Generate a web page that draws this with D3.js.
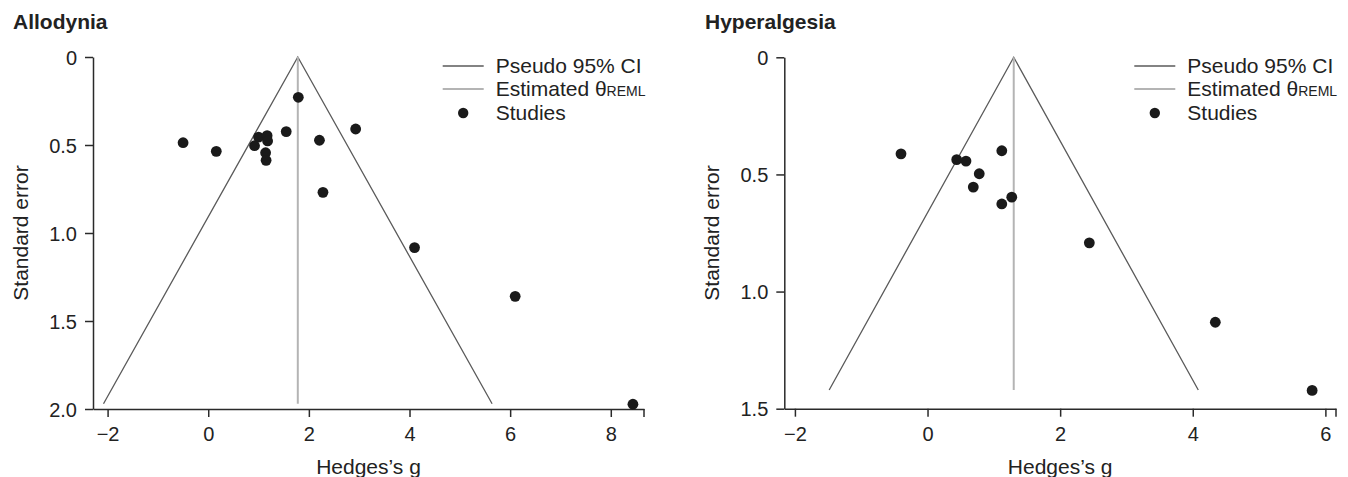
<!DOCTYPE html>
<html>
<head>
<meta charset="utf-8">
<script src="https://cdn.jsdelivr.net/npm/d3@7.9.0/dist/d3.min.js"></script>
<style>
  body { margin: 0; background: #fff; }
  svg { display: block; font-family: "Liberation Sans", Arial, Helvetica, sans-serif; }
  .tick text { font-size: 20px; fill: #222; }
</style>
</head>
<body>
<svg id="chart" width="1348" height="477"></svg>
<script>
// Allodynia: Hedges's g and standard error of each study
const allodyniaG  = [1.79, 2.93, 1.55, -0.50, 0.16, 1.00, 1.17, 1.18, 0.92, 1.14, 1.15, 2.21, 2.28, 4.10, 6.10, 8.44];
const allodyniaSE = [0.229, 0.409, 0.424, 0.487, 0.536, 0.455, 0.447, 0.477, 0.504, 0.544, 0.587, 0.473, 0.769, 1.083, 1.360, 1.973];
const allodyniaTheta = 1.78;
const allodyniaMaxSE = 1.97;

// Hyperalgesia
const hyperG  = [-0.40, 0.44, 0.58, 1.12, 0.78, 0.69, 1.27, 1.12, 2.44, 4.34, 5.80];
const hyperSE = [0.412, 0.437, 0.443, 0.399, 0.497, 0.554, 0.597, 0.626, 0.792, 1.131, 1.422];
const hyperTheta = 1.30;
const hyperMaxSE = 1.42;

const allodyniaXTicks = [-2, 0, 2, 4, 6, 8];
const allodyniaYTicks = [0, 0.5, 1.0, 1.5, 2.0];
const hyperXTicks = [-2, 0, 2, 4, 6];
const hyperYTicks = [0, 0.5, 1.0, 1.5];

const legendLabels = ["Pseudo 95% CI", "Estimated θ", "Studies"];

const svg = d3.select("#chart");
const z = 1.96;

function drawPanel(p) {
  const g = svg.append("g");
  const x = d3.scaleLinear().domain(p.xDomain).range([p.left, p.right]);
  const y = d3.scaleLinear().domain(p.yDomain).range([p.top, p.bottom]);

  // title
  g.append("text")
    .attr("x", p.titleX).attr("y", 29)
    .attr("font-size", 21).attr("font-weight", "bold").attr("fill", "#222")
    .text(p.title);

  // pseudo 95% CI funnel
  const funnel = [[p.theta - z * p.maxSE, p.maxSE], [p.theta, 0], [p.theta + z * p.maxSE, p.maxSE]];
  g.append("path")
    .attr("d", d3.line().x(d => x(d[0])).y(d => y(d[1]))(funnel))
    .attr("fill", "none").attr("stroke", "#5a5a5a").attr("stroke-width", 1.3);

  // estimated theta
  g.append("line")
    .attr("x1", x(p.theta)).attr("x2", x(p.theta))
    .attr("y1", y(0)).attr("y2", y(p.maxSE))
    .attr("stroke", "#b4b4b4").attr("stroke-width", 2);

  // axes
  const xAxis = g.append("g")
    .attr("transform", `translate(0,${p.bottom})`)
    .call(d3.axisBottom(x).tickValues(p.xTicks).tickSize(8).tickSizeOuter(0).tickPadding(10));
  const yAxis = g.append("g")
    .attr("transform", `translate(${p.left},0)`)
    .call(d3.axisLeft(y).tickValues(p.yTicks).tickSize(8).tickSizeOuter(0).tickPadding(8)
      .tickFormat(d => d === 0 ? "0" : d3.format(".1f")(d)));
  // end tick at right of x axis
  xAxis.append("line")
    .attr("x1", p.right).attr("x2", p.right).attr("y1", 0).attr("y2", 8);
  [xAxis, yAxis].forEach(a => {
    a.selectAll("path, line").attr("stroke", "#2a2a2a").attr("stroke-width", 1.5);
    a.selectAll("text").attr("font-family", "Liberation Sans, Arial, sans-serif");
  });
  yAxis.selectAll("text").attr("dy", "0.36em");

  // axis titles
  g.append("text")
    .attr("x", (p.left + p.right) / 2).attr("y", 474)
    .attr("text-anchor", "middle").attr("font-size", 21).attr("fill", "#222")
    .text("Hedges\u2019s g");
  g.append("text")
    .attr("transform", `translate(${p.left - 65},${(p.top + p.bottom) / 2}) rotate(-90)`)
    .attr("text-anchor", "middle").attr("font-size", 21).attr("fill", "#222")
    .text("Standard error");

  // studies
  g.selectAll("circle.study")
    .data(p.gs.map((v, i) => [v, p.ses[i]]))
    .join("circle")
    .attr("class", "study")
    .attr("cx", d => x(d[0])).attr("cy", d => y(d[1]))
    .attr("r", 5.4).attr("fill", "#1a1a1a");

  // legend
  const lg = g.append("g").attr("transform", `translate(${p.legendX},0)`);
  const rows = [66, 89, 113];
  lg.append("line").attr("x1", 0).attr("x2", 41).attr("y1", rows[0]).attr("y2", rows[0])
    .attr("stroke", "#5a5a5a").attr("stroke-width", 1.3);
  lg.append("line").attr("x1", 0).attr("x2", 41).attr("y1", rows[1]).attr("y2", rows[1])
    .attr("stroke", "#b4b4b4").attr("stroke-width", 2);
  lg.append("circle").attr("cx", 20.5).attr("cy", rows[2]).attr("r", 5.2).attr("fill", "#1a1a1a");
  legendLabels.forEach((t, i) => {
    const tx = lg.append("text")
      .attr("x", 53).attr("y", rows[i] + 7)
      .attr("font-size", 21).attr("fill", "#222")
      .text(t);
    if (i === 1) tx.append("tspan").attr("font-size", 14).text("REML");
  });
}

drawPanel({
  title: "Allodynia", titleX: 13,
  xDomain: [-2.29, 8.66], yDomain: [0, 2],
  left: 93, right: 644, top: 57, bottom: 409,
  xTicks: allodyniaXTicks, yTicks: allodyniaYTicks,
  theta: allodyniaTheta, maxSE: allodyniaMaxSE,
  gs: allodyniaG, ses: allodyniaSE,
  legendX: 442.7
});

drawPanel({
  title: "Hyperalgesia", titleX: 705,
  xDomain: [-2.16, 6.16], yDomain: [0, 1.5],
  left: 784.3, right: 1336, top: 57.3, bottom: 408.7,
  xTicks: hyperXTicks, yTicks: hyperYTicks,
  theta: hyperTheta, maxSE: hyperMaxSE,
  gs: hyperG, ses: hyperSE,
  legendX: 1134.3
});
</script>
</body>
</html>
